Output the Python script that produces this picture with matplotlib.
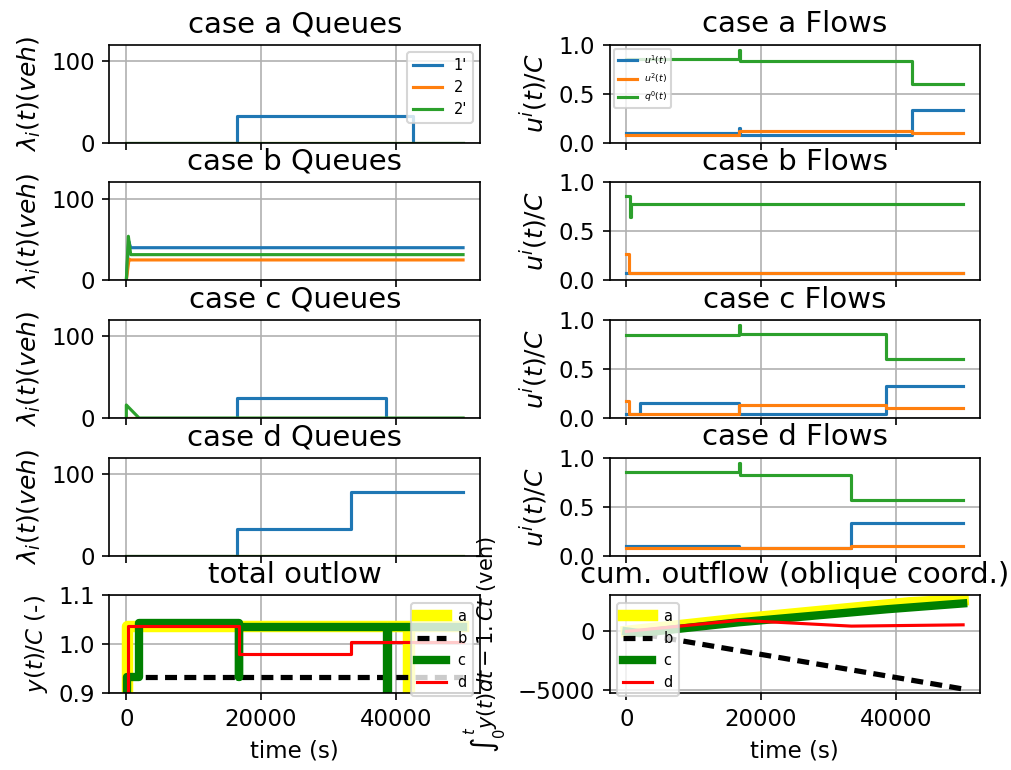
import matplotlib
matplotlib.use("Agg")
import matplotlib.pyplot as plt

# ---------------- data ----------------
cases = ["a", "b", "c", "d"]
queue_labels = ["1'", "2", "2'"]
flow_labels = ["$u^1(t)$", "$u^2(t)$", "$q^0(t)$"]

# queues lambda_i(t) (veh): (times, values, is_step) per lane
queue_a = {
    "1'": ([0, 16500, 42500, 50000], [0, 32.5, 0, 0], True),
    "2": ([0, 50000], [0, 0], True),
    "2'": ([0, 50000], [0, 0], True),
}
# case b has a short linear transient at the start
queue_b = {
    "1'": ([0, 350, 650, 50000], [0, 48, 40, 40], False),
    "2": ([0, 400, 650, 50000], [0, 26, 25, 25], False),
    "2'": ([0, 300, 650, 50000], [0, 54, 31.5, 31.5], False),
}
queue_c = {
    "1'": ([0, 16500, 38500, 50000], [0, 25, 0, 0], True),
    "2": ([0, 50000], [0, 0], True),
    "2'": ([0, 0, 1900, 50000], [0, 16, 0, 0], False),
}
queue_d = {
    "1'": ([0, 16500, 33300, 50000], [0, 32.5, 77.5, 77.5], True),
    "2": ([0, 50000], [0, 0], True),
    "2'": ([0, 50000], [0, 0], True),
}

# normalised flows u^i(t)/C (step series)
flow_a = {
    "u1": ([0, 16700, 16900, 42400, 50000], [0.10, 0.15, 0.08, 0.33, 0.33]),
    "u2": ([0, 16700, 42400, 50000], [0.08, 0.12, 0.10, 0.10]),
    "q0": ([0, 16700, 16900, 42400, 50000], [0.85, 0.95, 0.83, 0.60, 0.60]),
}
flow_b = {
    "u1": ([0, 50000], [0.08, 0.08]),
    "u2": ([0, 400, 50000], [0.27, 0.075, 0.075]),
    "q0": ([0, 600, 750, 50000], [0.86, 0.65, 0.78, 0.78]),
}
flow_c = {
    "u1": ([0, 2000, 16700, 38500, 50000], [0.04, 0.15, 0.04, 0.33, 0.33]),
    "u2": ([0, 350, 16700, 38500, 50000], [0.17, 0.04, 0.13, 0.10, 0.10]),
    "q0": ([0, 16700, 16900, 38500, 50000], [0.845, 0.95, 0.86, 0.60, 0.60]),
}
flow_d = {
    "u1": ([0, 16700, 33300, 50000], [0.10, 0.08, 0.33, 0.33]),
    "u2": ([0, 33300, 50000], [0.08, 0.10, 0.10]),
    "q0": ([0, 16700, 16900, 33300, 50000], [0.85, 0.95, 0.82, 0.57, 0.57]),
}

# total outflow y(t)/C (step series)
total_a = ([0, 100, 41800, 42000, 50000], [0.85, 1.038, 0.85, 1.038, 1.038])
total_b = ([0, 50000], [0.934, 0.934])
total_c = ([0, 100, 1900, 16700, 16800, 38700, 38800, 50000],
           [0.85, 0.934, 1.044, 0.934, 1.036, 0.85, 1.036, 1.036])
total_d = ([0, 300, 16800, 33400, 50000], [0.85, 1.038, 0.98, 1.004, 1.004])

# cumulative outflow in oblique coordinates (veh)
cum_a = ([0, 16700, 42000, 50000], [0, 1050, 2450, 2700])
cum_b = ([0, 50000], [0, -4950])
cum_c = ([0, 1900, 16700, 38700, 50000], [0, -150, 780, 1900, 2400])
cum_d = ([0, 16800, 33400, 50000], [0, 950, 450, 560])

queues = {"a": queue_a, "b": queue_b, "c": queue_c, "d": queue_d}
flows = {"a": flow_a, "b": flow_b, "c": flow_c, "d": flow_d}
totals = {"a": total_a, "b": total_b, "c": total_c, "d": total_d}
cums = {"a": cum_a, "b": cum_b, "c": cum_c, "d": cum_d}

case_styles = {
    "a": dict(color="yellow", lw=5.5),
    "b": dict(color="k", lw=2.5, ls="--", dashes=(2.3, 1.4)),
    "c": dict(color="green", lw=4),
    "d": dict(color="red", lw=1.5),
}
TITLE_SIZE = 14
LABEL_SIZE = 12
TICK_SIZE = 11

# ---------------- figure ----------------
fig, axes = plt.subplots(5, 2, sharex=True, figsize=(1011 / 150, 770 / 150), dpi=150)
fig.subplots_adjust(left=0.1083, right=0.9693, bottom=0.0994, top=0.942,
                    hspace=0.405, wspace=0.35)

for row, case in enumerate(cases):
    axq = axes[row, 0]
    for lab in queue_labels:
        t, v, is_step = queues[case][lab]
        axq.plot(t, v, drawstyle="steps-post" if is_step else "default", label=lab)
    axq.set_ylim(0, 120)
    axq.set_title(f"case {case} Queues", fontsize=TITLE_SIZE)
    axq.set_ylabel(r"$\lambda_i(t) (veh)$", fontsize=LABEL_SIZE)
    axq.grid(True)

    axf = axes[row, 1]
    for key, lab in zip(["u1", "u2", "q0"], flow_labels):
        t, v = flows[case][key]
        axf.plot(t, v, drawstyle="steps-post", label=lab)
    axf.set_ylim(0, 1)
    axf.set_title(f"case {case} Flows", fontsize=TITLE_SIZE)
    axf.set_ylabel(r"$u^i(t)/C$", fontsize=LABEL_SIZE)
    axf.grid(True)

axes[0, 0].legend(loc="upper right", fontsize=7)
axes[0, 1].legend(loc="upper left", fontsize=4.5)

axt = axes[4, 0]
for case in cases:
    t, v = totals[case]
    axt.plot(t, v, drawstyle="steps-post", label=case, **case_styles[case])
axt.set_ylim(0.9, 1.1)
axt.set_title("total outlow", fontsize=TITLE_SIZE)
axt.set_ylabel("$y(t)/C$ (-)", fontsize=11)
axt.set_xlabel("time (s)", fontsize=11)
axt.grid(True)
axt.legend(loc="upper right", fontsize=7)

axc = axes[4, 1]
for case in cases:
    t, v = cums[case]
    axc.plot(t, v, label=case, **case_styles[case])
axc.set_title("cum. outflow (oblique coord.)", fontsize=TITLE_SIZE)
axc.set_ylabel(r"$\int_0^t y(t)dt - 1.C t$ (veh)")
axc.set_xlabel("time (s)", fontsize=11)
axc.grid(True)
axc.legend(loc="upper left", fontsize=7)

for ax in axes.flat:
    ax.tick_params(labelsize=TICK_SIZE)

fig.savefig("out.png", dpi=150)
